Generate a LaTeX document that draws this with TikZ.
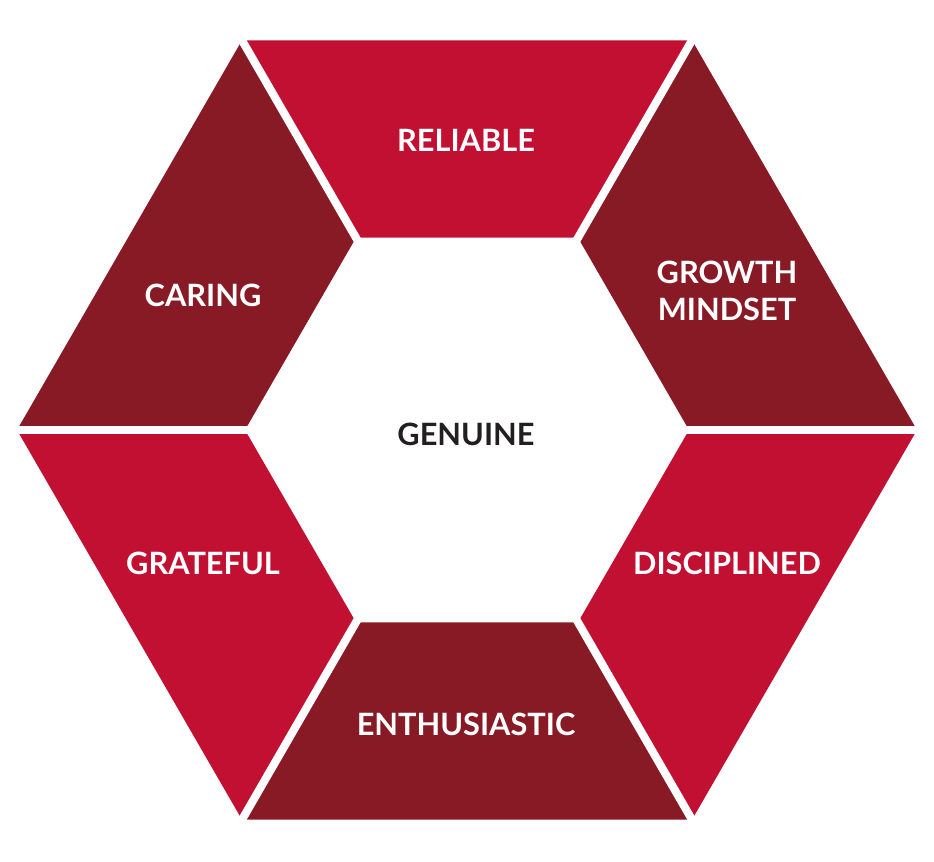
\documentclass[tikz,border=0pt]{standalone}
\usepackage{fontspec}
\setmainfont{Lato}
\usepackage{tikz}
\usetikzlibrary{calc}
\definecolor{brightred}{RGB}{193,16,50}
\definecolor{darkred}{RGB}{136,26,37}
\definecolor{inkgray}{RGB}{35,31,32}

\begin{document}
\begin{tikzpicture}[
  piece/.style={fill=#1},
  gap/.style={draw=white,line width=4.6pt,line cap=rect},
  word/.style={text=white,font=\fontsize{17.5}{21}\selectfont\bfseries,align=center}
]
\useasboundingbox (0,0) rectangle (18.68,17.22);
\coordinate (c) at (9.34,8.62);
% outer and inner corners of the ring
\coordinate (o0) at ($(c)+(0:9)$);
\coordinate (o1) at ($(c)+(60:9)$);
\coordinate (o2) at ($(c)+(120:9)$);
\coordinate (o3) at ($(c)+(180:9)$);
\coordinate (o4) at ($(c)+(240:9)$);
\coordinate (o5) at ($(c)+(300:9)$);
\coordinate (i0) at ($(c)+(0:4.44)$);
\coordinate (i1) at ($(c)+(60:4.44)$);
\coordinate (i2) at ($(c)+(120:4.44)$);
\coordinate (i3) at ($(c)+(180:4.44)$);
\coordinate (i4) at ($(c)+(240:4.44)$);
\coordinate (i5) at ($(c)+(300:4.44)$);

\fill[piece=brightred] (o1) -- (o2) -- (i2) -- (i1) -- cycle;
\fill[piece=darkred] (o2) -- (o3) -- (i3) -- (i2) -- cycle;
\fill[piece=brightred] (o3) -- (o4) -- (i4) -- (i3) -- cycle;
\fill[piece=darkred] (o4) -- (o5) -- (i5) -- (i4) -- cycle;
\fill[piece=brightred] (o5) -- (o0) -- (i0) -- (i5) -- cycle;
\fill[piece=darkred] (o0) -- (o1) -- (i1) -- (i0) -- cycle;

% white cuts between the pieces
\draw[gap] (i0) -- (o0);
\draw[gap] (i1) -- (o1);
\draw[gap] (i2) -- (o2);
\draw[gap] (i3) -- (o3);
\draw[gap] (i4) -- (o4);
\draw[gap] (i5) -- (o5);

\node[word] (reliable) at (9.32,14.42) {RELIABLE};
\node[word] (caring) at (4.06,11.32) {CARING};
\node[word] (growth) at (14.54,11.40) {GROWTH\\MINDSET};
\node[word,text=inkgray] (genuine) at (9.32,8.54) {GENUINE};
\node[word] (grateful) at (4.06,5.96) {GRATEFUL};
\node[word] (disciplined) at (14.54,5.96) {DISCIPLINED};
\node[word] (enthusiastic) at (9.32,2.74) {ENTHUSIASTIC};
\end{tikzpicture}
\end{document}
